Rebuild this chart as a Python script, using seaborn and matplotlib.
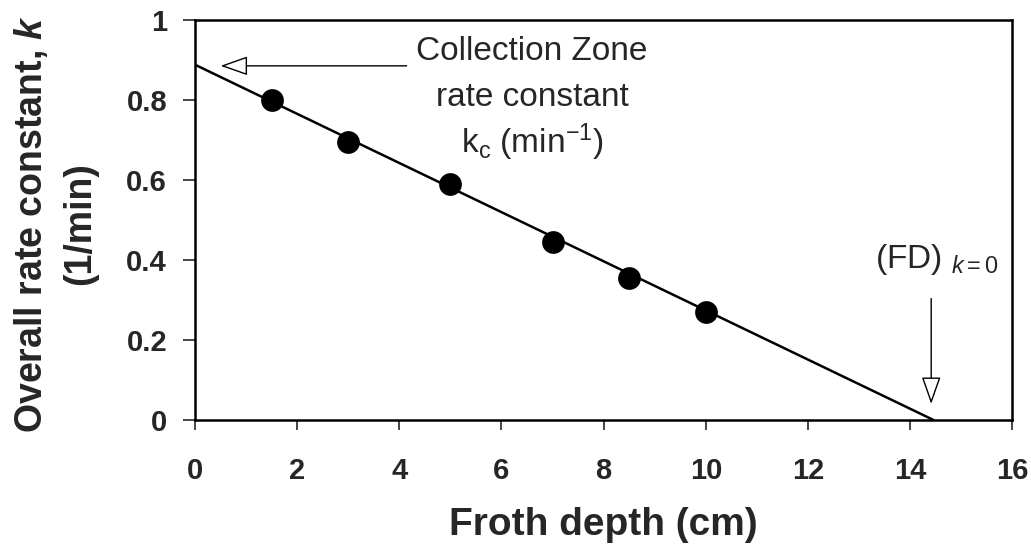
import matplotlib
matplotlib.use("Agg")
import matplotlib.pyplot as plt
import seaborn as sns
import pandas as pd

# 측정 데이터
froth_depth = [1.5, 3.0, 5.0, 7.0, 8.5, 10.0]
rate_k = [0.80, 0.695, 0.59, 0.445, 0.355, 0.27]

# 추세선 양 끝
fit_x = [0.0, 14.45]
fit_y = [0.888, 0.0]

x_ticks = [0, 2, 4, 6, 8, 10, 12, 14, 16]
y_ticks = [0, 0.2, 0.4, 0.6, 0.8, 1]
y_tick_labels = ["0", "0.2", "0.4", "0.6", "0.8", "1"]

df = pd.DataFrame({"depth": froth_depth, "k": rate_k})
fit = pd.DataFrame({"depth": fit_x, "k": fit_y})

sns.set_style("white")
plt.rcParams["font.family"] = ["Liberation Sans", "DejaVu Sans"]
plt.rcParams["mathtext.fontset"] = "custom"
plt.rcParams["mathtext.rm"] = "Liberation Sans"
plt.rcParams["mathtext.it"] = "Liberation Sans:italic"
plt.rcParams["mathtext.bf"] = "Liberation Sans:bold"
plt.rcParams["mathtext.bfit"] = "Liberation Sans:bold:italic"

fig, ax = plt.subplots(figsize=(10.31, 5.51), dpi=100)
fig.subplots_adjust(left=0.189, right=0.982, top=0.964, bottom=0.238)

sns.lineplot(data=fit, x="depth", y="k", color="black", linewidth=1.8, ax=ax)
sns.scatterplot(data=df, x="depth", y="k", color="black", s=230, edgecolor="black", zorder=3, ax=ax)

ax.set_xlim(0, 16)
ax.set_ylim(0, 1)
ax.set_xticks(x_ticks)
ax.set_yticks(y_ticks)
ax.set_yticklabels(y_tick_labels)
ax.tick_params(axis="both", direction="out", width=1.2, labelsize=21,
               bottom=True, left=True)
ax.tick_params(axis="x", length=7, pad=20)
ax.tick_params(axis="y", length=9, pad=11)
for lbl in ax.get_xticklabels() + ax.get_yticklabels():
    lbl.set_fontweight("bold")
for sp in ax.spines.values():
    sp.set_color("black")
    sp.set_linewidth(1.8)

ax.set_xlabel("Froth depth (cm)", fontsize=28, fontweight="bold")
ax.xaxis.set_label_coords(0.5, -0.218)
ax.set_ylabel("Overall rate constant, $\\mathbfit{k}$\n(1/min)", fontsize=27,
              fontweight="bold", linespacing=1.45)
ax.yaxis.set_label_coords(-0.118, 0.49)

# 주석
head = "-|>,head_length=1.7,head_width=0.6"
ax.annotate("", xy=(0.45, 0.885), xytext=(4.2, 0.885),
            arrowprops=dict(arrowstyle=head, fc="white", ec="black", lw=1.0))
ax.text(6.6, 0.92, "Collection Zone", ha="center", va="center", fontsize=24)
ax.text(6.6, 0.807, "rate constant", ha="center", va="center", fontsize=24)
ax.text(6.6, 0.695, "k$_\\mathrm{c}$ (min$^{-1}$)", ha="center", va="center", fontsize=24)

ax.annotate("", xy=(14.41, 0.033), xytext=(14.41, 0.31),
            arrowprops=dict(arrowstyle=head, fc="white", ec="black", lw=1.0))
ax.text(14.52, 0.40, "(FD) $_{\\mathit{k}{=}\\mathrm{0}}$", ha="center", va="center", fontsize=24)

fig.savefig("out.png", dpi=100)
